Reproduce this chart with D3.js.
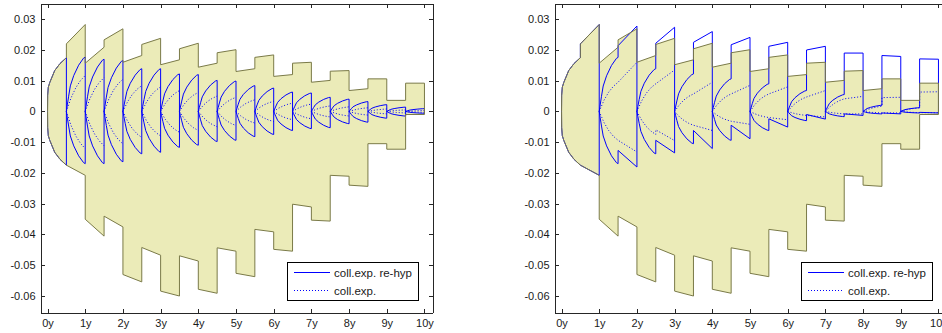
<!DOCTYPE html>
<html>
<head>
<meta charset="utf-8">
<script src="https://cdn.jsdelivr.net/npm/d3@7"></script>
<style>
  body { margin: 0; background: #fff; }
  svg { display: block; font-family: Arial, "Liberation Sans", sans-serif; }
  .axis text { font-size: 11px; fill: #1a1a1a; }
  .axis path, .axis line { stroke: #262626; shape-rendering: crispEdges; }
  .legend text { font-size: 11.5px; fill: #1a1a1a; }
</style>
</head>
<body>
<svg id="chart" width="942" height="333"></svg>
<script>
const xTicks = [0, 1, 2, 3, 4, 5, 6, 7, 8, 9, 10];
const xTickLabels = ['0y', '1y', '2y', '3y', '4y', '5y', '6y', '7y', '8y', '9y', '10y'];
const yTicks = [0.03, 0.02, 0.01, 0, -0.01, -0.02, -0.03, -0.04, -0.05, -0.06];
const yTickLabels = ['0.03', '0.02', '0.01', '0', '-0.01', '-0.02', '-0.03', '-0.04', '-0.05', '-0.06'];
const legendLabels = ['coll.exp. re-hyp', 'coll.exp.'];

// shaded band, one entry per half year: value just after the left break / just before the right break
// (first half year is the rounded edge, it starts at 0)
const bandUpStart = [0, 0.0220, 0.0157, 0.0233, 0.0160, 0.0218, 0.0152, 0.0204, 0.0144, 0.0191, 0.0130, 0.0176, 0.0114, 0.0157, 0.0095, 0.0131, 0.0068, 0.0106, 0.0036, 0.0092];
const bandUpEnd = [0.0175, 0.0283, 0.0209, 0.0269, 0.0182, 0.0238, 0.0168, 0.0222, 0.0157, 0.0201, 0.0139, 0.0184, 0.0120, 0.0160, 0.0101, 0.0133, 0.0074, 0.0106, 0.0036, 0.0092];
const bandLoStart = [0, -0.0175, -0.0351, -0.0341, -0.0531, -0.0443, -0.0585, -0.0470, -0.0579, -0.0444, -0.0527, -0.0384, -0.0449, -0.0302, -0.0354, -0.0208, -0.0240, -0.0105, -0.0123, -0.0010];
const bandLoEnd = [-0.0175, -0.0208, -0.0406, -0.0376, -0.0555, -0.0468, -0.0601, -0.0487, -0.0592, -0.0455, -0.0538, -0.0392, -0.0455, -0.0311, -0.0357, -0.0211, -0.0244, -0.0105, -0.0123, -0.0010];

// shape profiles (fraction of the half year, fraction of the end value)
const edgeU = [0, 0.006, 0.04, 0.12, 0.38, 0.66, 1];
const edgeP = [0, 0.30, 0.45, 0.54, 0.76, 0.89, 1];
const arcU = [0, 0.05, 0.12, 0.21, 0.39, 0.65, 0.91, 1];
const arcP = [0, 0.12, 0.28, 0.47, 0.66, 0.85, 0.98, 1];
const dotU = [0, 0.25, 0.5, 0.75, 1];
const dotP = [0, 0.38, 0.66, 0.86, 1];

// left panel: curves restart every half year, end values
const leftUp = [0.0175, 0.0177, 0.0170, 0.0166, 0.0139, 0.0139, 0.0122, 0.0120, 0.0101, 0.0099, 0.0084, 0.0076, 0.0063, 0.0060, 0.0046, 0.0040, 0.0032, 0.0022, 0.0014, 0.0009];
const leftLo = [-0.0175, -0.0170, -0.0170, -0.0164, -0.0138, -0.0133, -0.0117, -0.0110, -0.0098, -0.0094, -0.0082, -0.0075, -0.0062, -0.0056, -0.0053, -0.0040, -0.0035, -0.0022, -0.0015, -0.0006];
const leftDotUp = [null, 0.0117, 0.0110, 0.0105, 0.0084, 0.0080, 0.0068, 0.0062, 0.0050, 0.0046, 0.0038, 0.0033, 0.0027, 0.0024, 0.0018, 0.0015, 0.0012, 0.0008, 0.0005, 0.0003];
const leftDotLo = [null, -0.0121, -0.0112, -0.0106, -0.0085, -0.0080, -0.0068, -0.0062, -0.0050, -0.0046, -0.0038, -0.0033, -0.0027, -0.0024, -0.0018, -0.0015, -0.0012, -0.0008, -0.0005, -0.0003];

// right panel: curves restart every year, jump at mid year
// 1 = mid year before jump, 2 = mid year after jump, 3 = year end
const rightUp1 = [0.0175, 0.0176, 0.0139, 0.0122, 0.0106, 0.0090, 0.0068, 0.0055, 0.0020, 0.0012];
const rightUp2 = [0.0220, 0.0214, 0.0222, 0.0225, 0.0217, 0.0212, 0.0200, 0.0190, 0.0182, 0.0171];
const rightUp3 = [0.0283, 0.0278, 0.0274, 0.0260, 0.0241, 0.0225, 0.0212, 0.0190, 0.0179, 0.0170];
const rightLo1 = [-0.0175, -0.0170, -0.0138, -0.0105, -0.0094, -0.0062, -0.0030, -0.0017, -0.0008, -0.0005];
const rightLo2 = [-0.0175, -0.0127, -0.0094, -0.0062, -0.0045, -0.0024, -0.0010, -0.0008, -0.0005, -0.0003];
const rightLo3 = [-0.0208, -0.0181, -0.0135, -0.0121, -0.0089, -0.0051, -0.0025, -0.0013, -0.0008, -0.0005];
const rightDotUp1 = [null, 0.0095, 0.0090, 0.0057, 0.0057, 0.0057, 0.0047, 0.0041, 0.0017, 0.0012];
const rightDotUp2 = [null, 0.0095, 0.0090, 0.0057, 0.0057, 0.0057, 0.0047, 0.0041, 0.0045, 0.0063];
const rightDotUp3 = [null, 0.0160, 0.0135, 0.0095, 0.0085, 0.0080, 0.0068, 0.0049, 0.0046, 0.0064];
const rightDotLo1 = [null, -0.0094, -0.0075, -0.0045, -0.0032, -0.0020, -0.0013, -0.0008, -0.0005, -0.0004];
const rightDotLo2 = [null, -0.0094, -0.0060, -0.0045, -0.0032, -0.0020, -0.0013, -0.0008, -0.0005, -0.0004];
const rightDotLo3 = [null, -0.0132, -0.0095, -0.0062, -0.0042, -0.0027, -0.0018, -0.0008, -0.0005, -0.0004];

const blue = '#0000ff';
const panelW = 392, plotTop = 3, plotBottom = 312;

const svg = d3.select('#chart');

function bandPoints() {
  const up = [], lo = [];
  edgeU.forEach((u, j) => {
    up.push([u * 0.5, edgeP[j] * bandUpEnd[0]]);
    lo.push([u * 0.5, edgeP[j] * bandLoEnd[0]]);
  });
  for (let k = 1; k < bandUpStart.length; k++) {
    up.push([k / 2, bandUpStart[k]], [(k + 1) / 2, bandUpEnd[k]]);
    lo.push([k / 2, bandLoStart[k]], [(k + 1) / 2, bandLoEnd[k]]);
  }
  return up.concat(lo.reverse());
}

function leftCurves() {
  const solid = [], dotted = [];
  leftUp.forEach((a, k) => {
    const t0 = k / 2;
    const U = k === 0 ? edgeU : arcU, P = k === 0 ? edgeP : arcP;
    const up = U.map((u, j) => [t0 + u * 0.5, P[j] * a]);
    const lo = U.map((u, j) => [t0 + u * 0.5, P[j] * leftLo[k]]);
    solid.push(up.concat(lo.reverse()));
    if (leftDotUp[k] != null) {
      dotted.push(dotU.map((u, j) => [t0 + u * 0.5, dotP[j] * leftDotUp[k]]));
      dotted.push(dotU.map((u, j) => [t0 + u * 0.5, dotP[j] * leftDotLo[k]]));
    }
  });
  return { solid, dotted };
}

function rightCurves() {
  const solid = [], dotted = [];
  rightUp1.forEach((a, k) => {
    const U = k === 0 ? edgeU : arcU, P = k === 0 ? edgeP : arcP;
    const up = U.map((u, j) => [k + u * 0.5, P[j] * a])
      .concat([[k + 0.5, rightUp2[k]], [k + 1, rightUp3[k]]]);
    const lo = U.map((u, j) => [k + u * 0.5, P[j] * rightLo1[k]])
      .concat([[k + 0.5, rightLo2[k]], [k + 1, rightLo3[k]]]);
    solid.push(up.concat(lo.reverse()));
    if (rightDotUp1[k] != null) {
      dotted.push(dotU.map((u, j) => [k + u * 0.5, dotP[j] * rightDotUp1[k]])
        .concat([[k + 0.5, rightDotUp2[k]], [k + 1, rightDotUp3[k]]]));
      dotted.push(dotU.map((u, j) => [k + u * 0.5, dotP[j] * rightDotLo1[k]])
        .concat([[k + 0.5, rightDotLo2[k]], [k + 1, rightDotLo3[k]]]));
    }
  });
  return { solid, dotted };
}

function drawPanel(left, curves, id) {
  const x = d3.scaleLinear().domain([-0.2, 10.2]).range([0, panelW]);
  const y = d3.scaleLinear().domain([-0.0653, 0.0353]).range([plotBottom, plotTop]);
  const line = d3.line().x(d => x(d[0])).y(d => y(d[1]));

  const g = svg.append('g').attr('transform', `translate(${left},0)`);

  g.append('clipPath').attr('id', id)
    .append('rect').attr('x', 0).attr('y', plotTop).attr('width', panelW).attr('height', plotBottom - plotTop);
  const plot = g.append('g').attr('clip-path', `url(#${id})`);

  const band = bandPoints();
  plot.append('path')
    .attr('d', line(band) + 'Z')
    .attr('fill', '#ebebb8')
    .attr('stroke', 'none');

  plot.selectAll('path.solid')
    .data(curves.solid)
    .enter().append('path')
    .attr('class', 'solid')
    .attr('d', line)
    .attr('fill', 'none')
    .attr('stroke', blue)
    .attr('stroke-width', 1);

  plot.selectAll('path.dotted')
    .data(curves.dotted)
    .enter().append('path')
    .attr('class', 'dotted')
    .attr('d', line)
    .attr('fill', 'none')
    .attr('stroke', blue)
    .attr('stroke-width', 1)
    .attr('stroke-dasharray', '1,2');

  // band outline goes on top, like the patch edge
  plot.append('path')
    .attr('d', line(band) + 'Z')
    .attr('fill', 'none')
    .attr('stroke', '#7a7a48')
    .attr('stroke-width', 1);

  g.append('g').attr('class', 'axis')
    .attr('transform', `translate(0,${plotBottom + 0.5})`)
    .call(d3.axisBottom(x).tickValues(xTicks).tickFormat((d, i) => xTickLabels[i])
      .tickSizeInner(-4).tickSizeOuter(0).tickPadding(7));

  g.append('g').attr('class', 'axis')
    .attr('transform', `translate(0,${plotTop + 0.5})`)
    .call(d3.axisTop(x).tickValues(xTicks).tickFormat('').tickSizeInner(-4).tickSizeOuter(0));

  g.append('g').attr('class', 'axis')
    .attr('transform', 'translate(0.5,0)')
    .call(d3.axisLeft(y).tickValues(yTicks).tickFormat((d, i) => yTickLabels[i])
      .tickSizeInner(-4).tickSizeOuter(0).tickPadding(5));

  g.append('g').attr('class', 'axis')
    .attr('transform', `translate(${panelW + 0.5},0)`)
    .call(d3.axisRight(y).tickValues(yTicks).tickFormat('').tickSizeInner(-4).tickSizeOuter(0));

  // legend
  const lg = g.append('g').attr('class', 'legend')
    .attr('transform', `translate(${panelW - 145},262)`);
  lg.append('rect')
    .attr('x', 0.5).attr('y', 0.5).attr('width', 131).attr('height', 38)
    .attr('fill', '#fff').attr('stroke', '#000');
  legendLabels.forEach((lab, i) => {
    const ly = 10.5 + i * 18;
    lg.append('line')
      .attr('x1', 7).attr('x2', 43).attr('y1', ly).attr('y2', ly)
      .attr('stroke', blue).attr('stroke-width', 1)
      .attr('stroke-dasharray', i === 1 ? '1,2' : null);
    lg.append('text')
      .attr('x', 47).attr('y', ly + 4)
      .text(lab);
  });
}

drawPanel(40, leftCurves(), 'clipL');
drawPanel(554, rightCurves(), 'clipR');
</script>
</body>
</html>
